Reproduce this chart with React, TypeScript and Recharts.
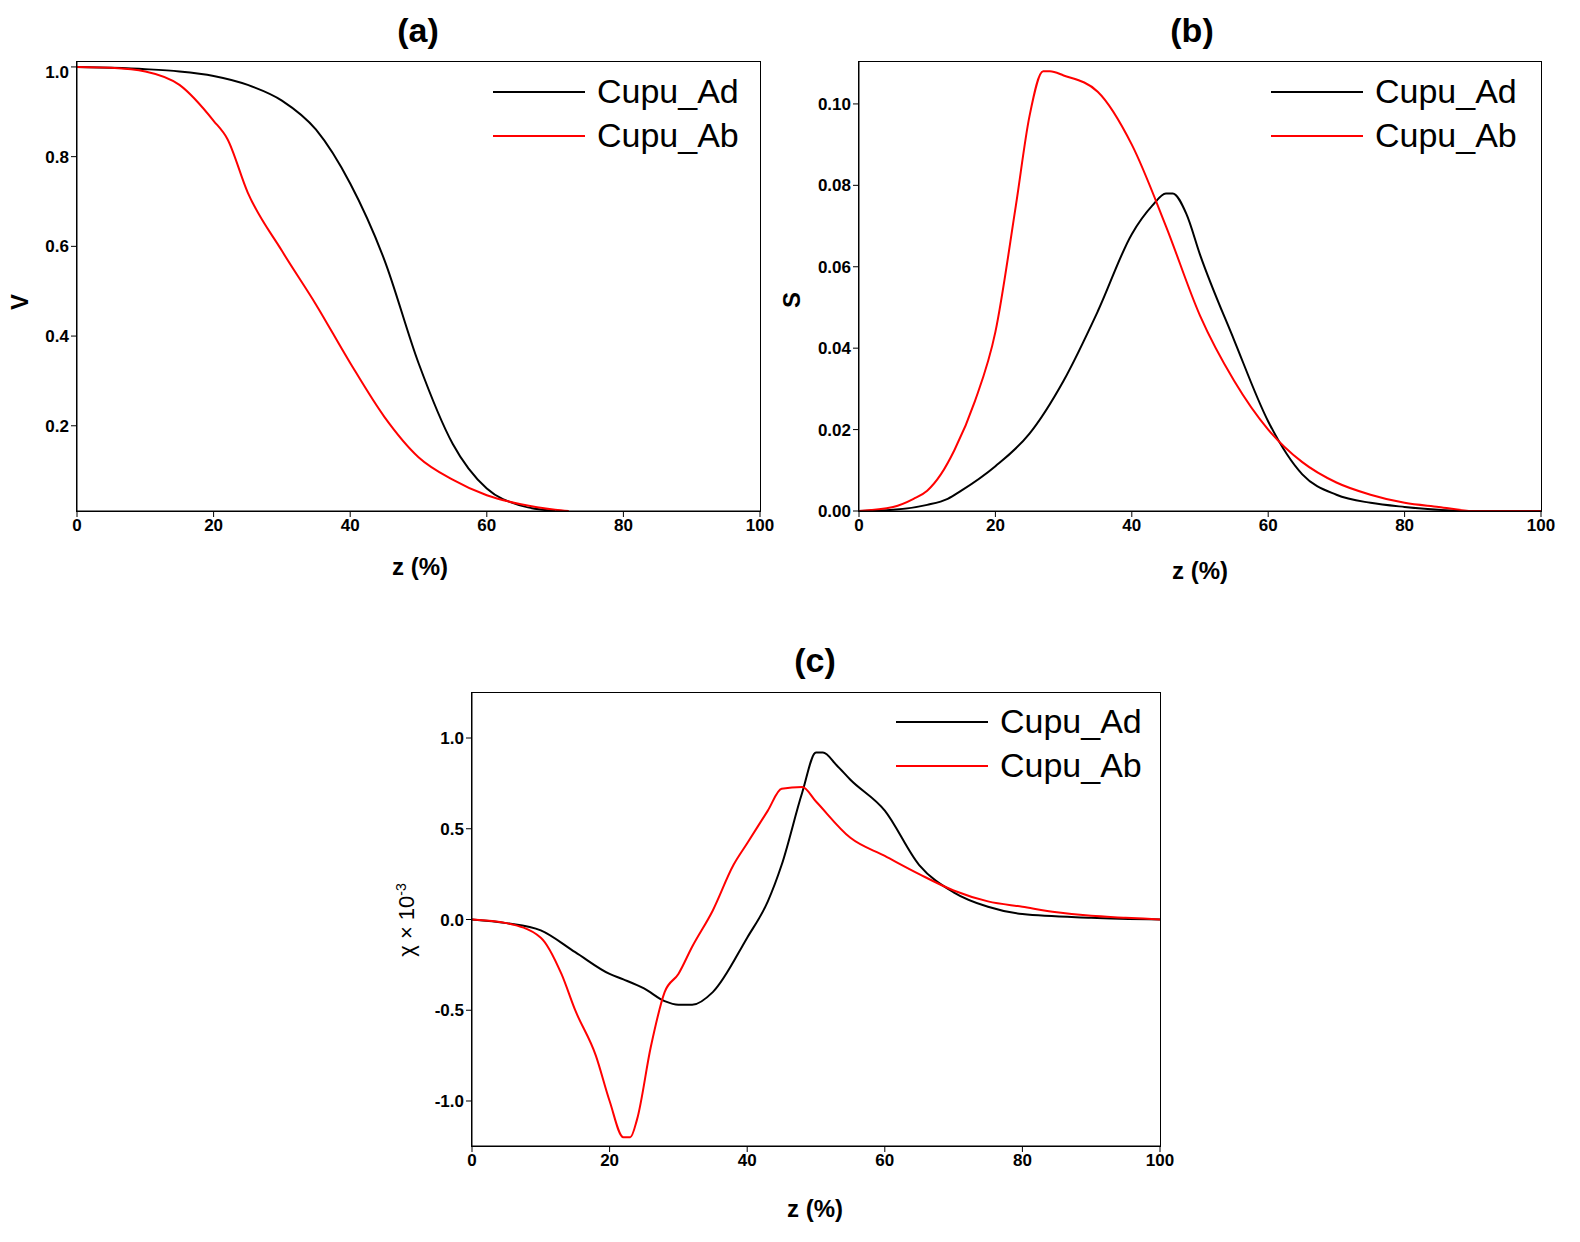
import React from "react";
import { LineChart, Line, XAxis, YAxis } from "recharts";

const zTicks = [0, 20, 40, 60, 80, 100];

const vAdZ = [0, 5, 10, 15, 20, 25, 30, 35, 40, 45, 50, 55, 60, 65, 70];
const vAdV = [1.0, 0.998, 0.995, 0.99, 0.98, 0.96, 0.925, 0.86, 0.74, 0.57, 0.34, 0.16, 0.06, 0.022, 0.01];
const vAbZ = [0, 5, 10, 15, 20, 22, 25, 30, 35, 40, 45, 50, 55, 60, 65, 70, 72];
const vAbV = [1.0, 0.998, 0.99, 0.96, 0.88, 0.84, 0.72, 0.59, 0.47, 0.34, 0.22, 0.13, 0.08, 0.045, 0.025, 0.013, 0.01];

const sAdZ = [0, 5, 10, 13, 15, 20, 25, 30, 35, 40, 43, 45, 46, 48, 50, 55, 60, 65, 70, 75, 80, 90, 100];
const sAdS = [0, 0.0003, 0.0015, 0.003, 0.005, 0.011, 0.019, 0.032, 0.049, 0.068, 0.075, 0.078, 0.078, 0.073, 0.063, 0.042, 0.022, 0.009, 0.004, 0.002, 0.001, 0, 0];
const sAbZ = [0, 5, 8, 10, 12, 14, 17, 20, 23, 25, 27, 28, 30, 35, 40, 45, 50, 55, 60, 65, 70, 75, 80, 85, 90, 100];
const sAbS = [0, 0.001, 0.003, 0.005, 0.009, 0.015, 0.027, 0.044, 0.075, 0.097, 0.108, 0.108, 0.107, 0.103, 0.09, 0.07, 0.048, 0.032, 0.02, 0.012, 0.007, 0.004, 0.002, 0.001, 0, 0];

const cAdZ = [0, 5, 10, 15, 20, 22, 25, 28, 30, 32, 35, 40, 43, 45, 48, 50, 51, 53, 55, 60, 65, 70, 75, 80, 90, 100];
const cAdC = [0, -0.02, -0.06, -0.18, -0.3, -0.33, -0.38, -0.45, -0.47, -0.47, -0.4, -0.1, 0.1, 0.3, 0.7, 0.92, 0.92, 0.85, 0.77, 0.6, 0.3, 0.15, 0.07, 0.03, 0.01, 0];
const cAbZ = [0, 5, 10, 13, 15, 18, 20, 22, 23, 24, 26, 28, 30, 32, 35, 38, 40, 43, 45, 48, 50, 55, 60, 65, 70, 75, 80, 85, 90, 95, 100];
const cAbC = [0, -0.02, -0.1, -0.3, -0.5, -0.75, -1.0, -1.2, -1.2, -1.1, -0.7, -0.4, -0.3, -0.15, 0.05, 0.3, 0.42, 0.6, 0.72, 0.73, 0.65, 0.45, 0.35, 0.25, 0.16, 0.1, 0.07, 0.04, 0.02, 0.01, 0];

const mk = (z: number[], v: number[]) => z.map((x, i) => ({ z: x, v: v[i] }));

const FONT = "'Liberation Sans', Arial, sans-serif";
const tickStyle = { fill: "#000", fontSize: 17, fontWeight: 700, fontFamily: FONT };

type PanelProps = {
  l: number; t: number; r: number; b: number;
  domain: [number, number]; yTicks: number[]; fmt: (v: number) => string;
  ad: { z: number; v: number }[]; ab: { z: number; v: number }[];
};

function Panel({ l, t, r, b, domain, yTicks, fmt, ad, ab }: PanelProps) {
  const W = r - l + 100, H = b - t + 60;
  return (
    <>
      <div style={{ position: "absolute", left: l - 80, top: t }}>
        <LineChart width={W} height={H} margin={{ left: 20, top: 0, right: 20, bottom: 30 }}>
          <XAxis dataKey="z" type="number" domain={[0, 100]} ticks={zTicks}
            height={30} tick={tickStyle} tickSize={6} stroke="#000" allowDuplicatedCategory={false} />
          <YAxis type="number" domain={domain} ticks={yTicks} width={60} tick={tickStyle}
            tickFormatter={fmt} tickSize={6} stroke="#000" allowDataOverflow />
          <Line data={ad} dataKey="v" type="monotone" stroke="#000" strokeWidth={2} dot={false} isAnimationActive={false} />
          <Line data={ab} dataKey="v" type="monotone" stroke="#f00" strokeWidth={2} dot={false} isAnimationActive={false} />
        </LineChart>
      </div>
      <div style={{ position: "absolute", left: l - 1, top: t - 1, width: r - l, height: b - t, border: "1.5px solid #000", pointerEvents: "none" }} />
    </>
  );
}

const T = (x: number, y: number, s: string | React.ReactNode, size: number, bold = true, rot = false) => (
  <div style={{
    position: "absolute", left: x, top: y, transform: `translate(-50%,-50%)${rot ? " rotate(-90deg)" : ""}`,
    fontFamily: FONT, fontSize: size, fontWeight: bold ? 700 : 400, whiteSpace: "nowrap", color: "#000",
  }}>{s}</div>
);

const Legend = ({ x, y }: { x: number; y: number }) => (
  <>
    <div style={{ position: "absolute", left: x, top: y - 1, width: 92, height: 2, background: "#000" }} />
    <div style={{ position: "absolute", left: x + 104, top: y - 20, fontFamily: FONT, fontSize: 34 }}>Cupu_Ad</div>
    <div style={{ position: "absolute", left: x, top: y + 43, width: 92, height: 2, background: "#f00" }} />
    <div style={{ position: "absolute", left: x + 104, top: y + 24, fontFamily: FONT, fontSize: 34 }}>Cupu_Ab</div>
  </>
);

export default function App() {
  return (
    <div style={{ position: "absolute", left: 0, top: 0, width: 1580, height: 1242, background: "#fff" }}>
      <Panel l={77} t={62} r={760} b={511} domain={[0.01, 1.011]} yTicks={[0.2, 0.4, 0.6, 0.8, 1.0]}
        fmt={(v) => v.toFixed(1)} ad={mk(vAdZ, vAdV)} ab={mk(vAbZ, vAbV)} />
      <Panel l={859} t={62} r={1541} b={511} domain={[0, 0.1103]} yTicks={[0, 0.02, 0.04, 0.06, 0.08, 0.1]}
        fmt={(v) => v.toFixed(2)} ad={mk(sAdZ, sAdS)} ab={mk(sAbZ, sAbS)} />
      <Panel l={472} t={693} r={1160} b={1146} domain={[-1.248, 1.248]} yTicks={[-1, -0.5, 0, 0.5, 1]}
        fmt={(v) => v.toFixed(1)} ad={mk(cAdZ, cAdC)} ab={mk(cAbZ, cAbC)} />
      {T(418, 30, "(a)", 34)}
      {T(1192, 30, "(b)", 34)}
      {T(815, 660, "(c)", 34)}
      {T(420, 567, "z (%)", 24)}
      {T(1200, 571, "z (%)", 24)}
      {T(815, 1209, "z (%)", 24)}
      {T(20, 302, "V", 24, true, true)}
      {T(792, 300, "S", 24, true, true)}
      {T(407, 920, <span>χ × 10<sup style={{ fontSize: 14 }}>-3</sup></span>, 22, false, true)}
      <Legend x={493} y={92} />
      <Legend x={1271} y={92} />
      <Legend x={896} y={722} />
    </div>
  );
}
